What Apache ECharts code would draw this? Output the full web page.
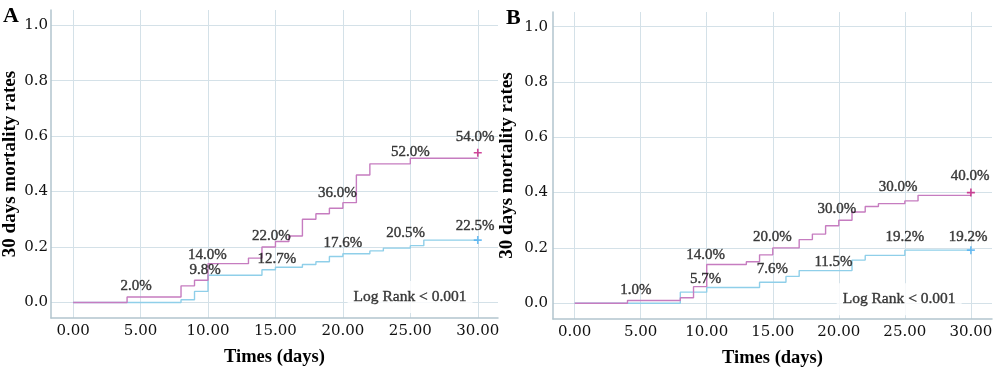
<!DOCTYPE html>
<html>
<head>
<meta charset="utf-8">
<script src="https://cdn.jsdelivr.net/npm/echarts@6/dist/echarts.min.js"></script>
<style>
html,body{margin:0;padding:0;background:#fff;}
#chart{width:1000px;height:378px;}
</style>
</head>
<body>
<div id="chart"></div>
<script>
// ---- data ----
const xTicks = [0, 5, 10, 15, 20, 25, 30];
const yTicks = [0, 0.2, 0.4, 0.6, 0.8, 1.0];

// Panel A step curves [day, cumulative mortality]
const aGroup1 = [[0,0],[4,0.02],[8,0.06],[9,0.08],[10,0.14],[13,0.16],[14,0.20],[15,0.22],[16,0.24],[17,0.30],[18,0.32],[19,0.34],[20,0.36],[21,0.46],[22,0.50],[25,0.52],[30,0.52]];
const aGroup2 = [[0,0],[8,0.01],[9,0.04],[10,0.098],[14,0.118],[15,0.127],[17,0.137],[18,0.147],[19,0.166],[20,0.176],[22,0.186],[23,0.196],[25,0.205],[26,0.225],[30,0.225]];
const aCensor1 = [[30,0.54]];
const aCensor2 = [[30,0.225]];
const aLabelText = ['2.0%','14.0%','9.8%','22.0%','12.7%','36.0%','17.6%','52.0%','20.5%','54.0%','22.5%'];
const aLabelAt = [[4.67,0.058],[9.96,0.172],[9.78,0.118],[14.7,0.240],[15.1,0.156],[19.6,0.396],[20.0,0.214],[25.0,0.544],[24.65,0.252],[29.8,0.598],[29.8,0.276]];

// Panel B step curves
const bGroup1 = [[0,0],[4,0.01],[8,0.02],[9,0.06],[10,0.14],[13,0.15],[14,0.175],[15,0.20],[17,0.23],[18,0.25],[19,0.28],[20,0.30],[21,0.33],[22,0.35],[23,0.36],[25,0.37],[26,0.39],[30,0.39]];
const bGroup2 = [[0,0],[8,0.04],[10,0.057],[14,0.076],[16,0.097],[17,0.118],[21,0.156],[22,0.173],[25,0.192],[30,0.192]];
const bCensor1 = [[30,0.40]];
const bCensor2 = [[30,0.192]];
const bLabelText = ['1.0%','14.0%','5.7%','20.0%','7.6%','30.0%','11.5%','30.0%','19.2%','40.0%','19.2%'];
const bLabelAt = [[4.64,0.046],[9.92,0.175],[9.92,0.088],[14.97,0.241],[14.97,0.123],[19.85,0.34],[19.6,0.150],[24.5,0.421],[25.0,0.241],[29.95,0.46],[29.8,0.241]];

const logRankText = 'Log Rank < 0.001';
const aLogRankAt = [[24.98,0.02]];
const bLogRankAt = [[24.57,0.014]];

const xName = 'Times (days)';
const yName = '30 days mortality rates';
const panelLetters = ['A','B'];

// ---- styles ----
const SERIF = '"Liberation Serif", "DejaVu Serif", serif';
const TICKFONT = '"DejaVu Serif", serif';
const C1 = '#c67cc0';
const C2 = '#8fcfe9';
const M1 = '#c2187e';
const M2 = '#4aaef0';
const GRID = '#d4e1e8';
const AXIS = '#b2c5ce';
const TEXT = '#111';

const plusPath = 'path://M4,0h2v4h4v2h-4v4h-2v-4h-4v-2h4z';

function xAxisCfg(idx, min, max) {
  return {
    type: 'value', gridIndex: idx, min: min, max: max,
    name: xName, nameLocation: 'middle', nameGap: 30,
    nameTextStyle: {fontFamily: SERIF, fontWeight: 'bold', fontSize: 18.5, color: '#000'},
    axisLine: {show: true, onZero: false, lineStyle: {color: AXIS, width: 1.5}},
    axisTick: {show: false, customValues: xTicks},
    axisLabel: {customValues: xTicks, formatter: v => v.toFixed(2), fontFamily: TICKFONT, fontSize: 15, color: TEXT, margin: 6},
    splitLine: {show: true, lineStyle: {color: GRID, width: 1}}
  };
}
function yAxisCfg(idx, min, max, gap, lblMargin) {
  return {
    type: 'value', gridIndex: idx, min: min, max: max,
    name: yName, nameLocation: 'middle', nameGap: gap, nameRotate: 90,
    nameTextStyle: {fontFamily: SERIF, fontWeight: 'bold', fontSize: 19, color: '#000'},
    axisLine: {show: true, onZero: false, lineStyle: {color: AXIS, width: 1.5}},
    axisTick: {show: false, customValues: yTicks},
    axisLabel: {customValues: yTicks, formatter: v => v.toFixed(1), fontFamily: TICKFONT, fontSize: 15, color: TEXT, margin: lblMargin},
    splitLine: {show: true, lineStyle: {color: GRID, width: 1}}
  };
}
function stepSeries(idx, data, color) {
  return {type: 'line', xAxisIndex: idx, yAxisIndex: idx, step: 'end', data: data, symbol: 'none',
          lineStyle: {color: color, width: 1.4}, silent: true, z: 3};
}
function censorSeries(idx, data, color) {
  return {type: 'scatter', xAxisIndex: idx, yAxisIndex: idx, data: data, symbol: plusPath, symbolSize: 8,
          itemStyle: {color: color}, silent: true, z: 4};
}
function labelSeries(idx, at, texts) {
  return {type: 'scatter', xAxisIndex: idx, yAxisIndex: idx, symbolSize: 1, silent: true, z: 5,
          itemStyle: {color: 'rgba(0,0,0,0)'},
          data: at.map((p, i) => ({value: p, name: texts[i]})),
          label: {show: true, position: 'inside', formatter: p => p.name, fontFamily: SERIF, fontSize: 15, color: TEXT,
                  textBorderColor: TEXT, textBorderWidth: 0.4}};
}
function logRankSeries(idx, at) {
  return {type: 'scatter', xAxisIndex: idx, yAxisIndex: idx, symbolSize: 1, silent: true, z: 2,
          itemStyle: {color: 'rgba(0,0,0,0)'},
          data: at.map(p => ({value: p, name: logRankText})),
          label: {show: true, position: 'inside', formatter: p => p.name, fontFamily: SERIF, fontSize: 15.5, color: TEXT,
                  textBorderColor: TEXT, textBorderWidth: 0.4,
                  backgroundColor: '#fff', padding: [8, 6]}};
}

const chart = echarts.init(document.getElementById('chart'), null, {renderer: 'canvas'});
chart.setOption({
  animation: false,
  backgroundColor: '#fff',
  title: [
    {text: panelLetters[0], left: -2, top: 0, textStyle: {fontFamily: SERIF, fontWeight: 'bold', fontSize: 22, color: '#000'}},
    {text: panelLetters[1], left: 501, top: 2, textStyle: {fontFamily: SERIF, fontWeight: 'bold', fontSize: 22, color: '#000'}}
  ],
  grid: [
    {left: 48, top: 10, width: 450, height: 308},
    {left: 553, top: 12, width: 439, height: 307}
  ],
  xAxis: [xAxisCfg(0, -1.64, 31.5), xAxisCfg(1, -1.64, 31.6)],
  yAxis: [yAxisCfg(0, -0.056, 1.055, 31, 3), yAxisCfg(1, -0.057, 1.053, 36, 5)],
  series: [
    logRankSeries(0, aLogRankAt),
    stepSeries(0, aGroup2, C2),
    stepSeries(0, aGroup1, C1),
    censorSeries(0, aCensor1, M1),
    censorSeries(0, aCensor2, M2),
    labelSeries(0, aLabelAt, aLabelText),
    logRankSeries(1, bLogRankAt),
    stepSeries(1, bGroup2, C2),
    stepSeries(1, bGroup1, C1),
    censorSeries(1, bCensor1, M1),
    censorSeries(1, bCensor2, M2),
    labelSeries(1, bLabelAt, bLabelText)
  ]
});
</script>
</body>
</html>
